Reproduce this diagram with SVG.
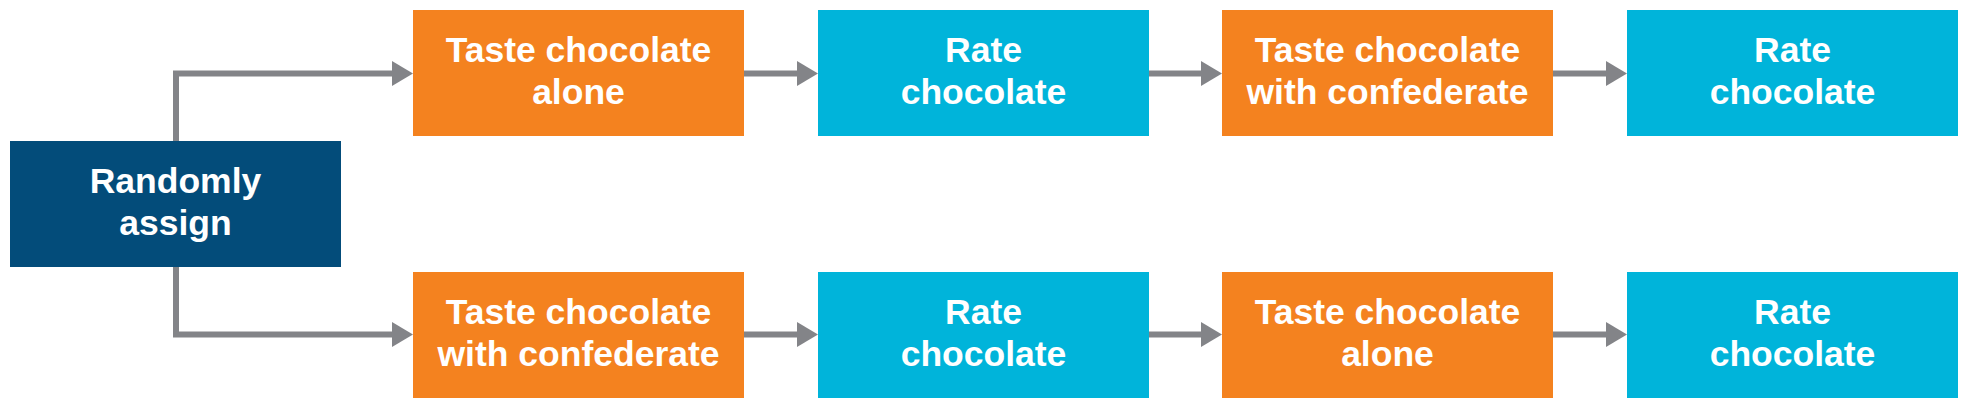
<svg xmlns="http://www.w3.org/2000/svg" width="1968" height="408" viewBox="0 0 1968 408">
<defs>
<style>
.orange{fill:#F4821F}
.cyan{fill:#00B4DA}
.navy{fill:#034C7A}
.lbl{font-family:"Liberation Sans",Arial,sans-serif;font-weight:bold;font-size:35.5px;fill:#fff;text-anchor:middle}
.conn{fill:none;stroke:#838488;stroke-width:6}
</style>
<marker id="ah" markerUnits="userSpaceOnUse" markerWidth="22" markerHeight="26" refX="0" refY="12.5" orient="auto" overflow="visible">
<path d="M0,0 L21,12.5 L0,25 Z" fill="#838488"/>
</marker>
</defs>
<g id="connectors">
<path class="conn" d="M176,141 V73.5 H392" marker-end="url(#ah)"/>
<path class="conn" d="M176,267 V334.5 H392" marker-end="url(#ah)"/>
<path class="conn" d="M744,73.5 H797" marker-end="url(#ah)"/>
<path class="conn" d="M1149,73.5 H1201" marker-end="url(#ah)"/>
<path class="conn" d="M1553,73.5 H1606" marker-end="url(#ah)"/>
<path class="conn" d="M744,334.5 H797" marker-end="url(#ah)"/>
<path class="conn" d="M1149,334.5 H1201" marker-end="url(#ah)"/>
<path class="conn" d="M1553,334.5 H1606" marker-end="url(#ah)"/>
</g>
<g id="randomly-assign">
<rect class="navy" x="10" y="141" width="331" height="126"/>
<text class="lbl" x="175.5" y="193">Randomly</text>
<text class="lbl" x="175.5" y="235">assign</text>
</g>
<g id="top-taste-alone">
<rect class="orange" x="413" y="10" width="331" height="126"/>
<text class="lbl" x="578.5" y="62">Taste chocolate</text>
<text class="lbl" x="578.5" y="104">alone</text>
</g>
<g id="top-rate-1">
<rect class="cyan" x="818" y="10" width="331" height="126"/>
<text class="lbl" x="983.5" y="62">Rate</text>
<text class="lbl" x="983.5" y="104">chocolate</text>
</g>
<g id="top-taste-confederate">
<rect class="orange" x="1222" y="10" width="331" height="126"/>
<text class="lbl" x="1387.5" y="62">Taste chocolate</text>
<text class="lbl" x="1387.5" y="104">with confederate</text>
</g>
<g id="top-rate-2">
<rect class="cyan" x="1627" y="10" width="331" height="126"/>
<text class="lbl" x="1792.5" y="62">Rate</text>
<text class="lbl" x="1792.5" y="104">chocolate</text>
</g>
<g id="bottom-taste-confederate">
<rect class="orange" x="413" y="272" width="331" height="126"/>
<text class="lbl" x="578.5" y="324">Taste chocolate</text>
<text class="lbl" x="578.5" y="366">with confederate</text>
</g>
<g id="bottom-rate-1">
<rect class="cyan" x="818" y="272" width="331" height="126"/>
<text class="lbl" x="983.5" y="324">Rate</text>
<text class="lbl" x="983.5" y="366">chocolate</text>
</g>
<g id="bottom-taste-alone">
<rect class="orange" x="1222" y="272" width="331" height="126"/>
<text class="lbl" x="1387.5" y="324">Taste chocolate</text>
<text class="lbl" x="1387.5" y="366">alone</text>
</g>
<g id="bottom-rate-2">
<rect class="cyan" x="1627" y="272" width="331" height="126"/>
<text class="lbl" x="1792.5" y="324">Rate</text>
<text class="lbl" x="1792.5" y="366">chocolate</text>
</g>
</svg>
